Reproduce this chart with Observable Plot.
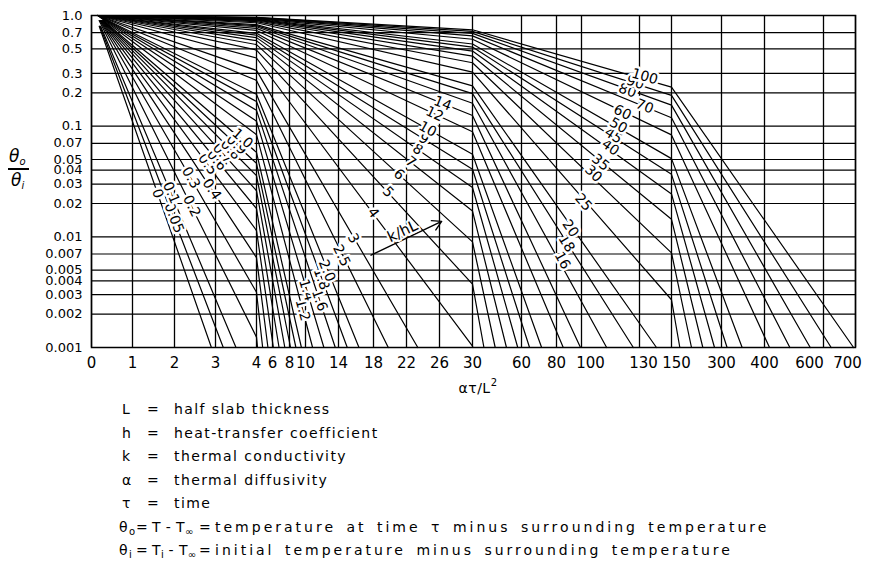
<!DOCTYPE html>
<html><head><meta charset="utf-8">
<script src="https://cdn.jsdelivr.net/npm/d3@7"></script>
<script src="https://cdn.jsdelivr.net/npm/@observablehq/plot@0.6"></script>
<style>
body{margin:0;background:#fff;font-family:"DejaVu Sans",sans-serif;color:#000;}
#wrap{position:relative;width:869px;height:569px;overflow:hidden;}
#chart{position:absolute;left:0;top:0;}
.def{position:absolute;white-space:pre;font-size:14px;line-height:18px;letter-spacing:1.4px;}
.wide{letter-spacing:3px;word-spacing:3px;}
.tight{letter-spacing:0.4px;}
.ylab{position:absolute;font-style:italic;font-size:17px;line-height:17px;}
sub{font-size:10px;vertical-align:-3px;letter-spacing:0;}
</style></head><body>
<div id="wrap">
<div id="chart"></div>
<div class="ylab" style="left:9px;top:148px;">θ<sub>o</sub></div>
<div style="position:absolute;left:8px;top:168px;width:21px;height:1.5px;background:#000;"></div>
<div class="ylab" style="left:11px;top:172px;">θ<sub>i</sub></div>
<div class="def" style="left:478px;top:374px;transform:translateX(-50%);letter-spacing:0.5px;">ατ/L<span style="font-size:10px;vertical-align:7px;">2</span></div>
<div id="defs"></div>
</div>
<script>
// ---- axis ticks ----
const xTicks = [0,1,2,3,4,6,8,10,14,18,22,26,30,60,80,100,130,150,300,400,600,700];
const xTickPixels = [91,132,174,215,256,272,289,305,338,373,406,439,472,521,556,581,639,671,721,764,823,855];
const yTicks = [1,0.7,0.5,0.3,0.2,0.1,0.07,0.05,0.04,0.03,0.02,0.01,0.007,0.005,0.004,0.003,0.002,0.001];
const yTickLabels = ["1.0","0.7","0.5","0.3","0.2","0.1","0.07","0.05","0.04","0.03","0.02","0.01","0.007","0.005","0.004","0.003","0.002","0.001"];

// ---- curves: k/hL values and the points read along each straight segment ----
const kOverHL = [0,0.05,0.1,0.2,0.3,0.4,0.5,0.6,0.7,0.8,0.9,1.0,1.2,1.4,1.6,1.8,2.0,2.5,3,4,5,6,7,8,9,10,12,14,16,18,20,25,30,35,40,45,50,60,70,80,90,100];
const startFo = [0.188,0.206,0.223,0.186,0.203,0.218,0.233,0.246,0.259,0.271,0.283,0.294,
  0.154,0.156,0.157,0.158,0.159,0.160,0.162,0.162,0.163,0.164,0.164,0.165,0.165,0.165,0.166,0.166,0.166,0.167,0.167,0.167,0.167,0.168,0.168,0.168,0.168,0.169,0.169,0.169,0.169,0.170];
const startTheta = [0.8,0.8,0.8,0.9,0.9,0.9,0.9,0.9,0.9,0.9,0.9,0.9,
  1,1,1,1,1,1,1,1,1,1,1,1,1,1,1,1,1,1,1,1,1,1,1,1,1,1,1,1,1,1];
const thetaAt4 = [null,null,null,0.00124,0.00316,0.00648,0.0114,0.0180,0.0261,0.0357,0.0462,0.0580,0.0837,0.111,0.139,0.167,0.194,0.259,0.319,0.413,0.487,0.546,0.593,0.631,0.663,0.690,0.733,0.765,0.791,0.811,0.828,0.860,0.881,0.897,0.909,0.919,0.927,0.938,0.947,0.953,0.958,0.963];
const thetaAt30 = [null,null,null,null,null,null,null,null,null,null,null,null,null,null,null,null,null,null,null,
  0.00103,0.00374,0.00900,0.0171,0.0279,0.0408,0.0557,0.0891,0.125,0.161,0.197,0.231,0.308,0.374,0.430,0.477,0.518,0.553,0.610,0.654,0.690,0.719,0.743];
const thetaAt150 = [null,null,null,null,null,null,null,null,null,null,null,null,null,null,null,null,null,null,null,null,null,null,null,null,null,null,null,null,null,null,null,
  0.00270,0.00716,0.0144,0.0244,0.0367,0.0509,0.0834,0.119,0.155,0.190,0.225];
const endFo = [2.90,3.19,3.50,4.13,4.77,5.43,6.10,6.77,7.45,8.13,8.80,9.49,10.86,12.23,13.61,15.0,16.34,19.79,23.37,30.12,37.0,43.9,50.8,57.7,64.6,71.5,85.4,99.2,113,126.8,140.6,175,210,244,279,313,348,417,486,555,624,694];

// ---- curve labels ----
const labelText = ["0","0.05","0.1","0.2","0.3","0.4","0.5","0.6","0.7","0.8","0.9","1.0",
  "1.2","1.4","1.6","1.8","2.0","2.5","3","4","5","6","7","8","9","10","12","14",
  "16","18","20","25","30","35","40","45","50","60","70","80","90","100"];
const labelFo = [1.60,1.99,1.92,2.42,2.40,2.91,2.81,3.03,3.18,3.37,3.515,3.66,
  9.66,10.14,11.70,11.94,12.6,14.35,15.7,17.96,19.76,21.09,22.53,23.37,24.1,24.58,25.42,26.38,
  84.8,88,91.2,101,106.2,109.8,115,116.5,119.1,121.2,133.3,123.8,127.9,133.3];
const labelTheta = [0.0246,0.0148,0.0250,0.0190,0.0342,0.0269,0.0453,0.0494,0.0567,0.0615,0.0681,0.0774,
  0.00218,0.0033,0.00267,0.00416,0.00494,0.00678,0.0097,0.0165,0.0255,0.0367,0.0474,0.0618,0.0769,0.0942,0.129,0.1605,
  0.00612,0.00872,0.0119,0.0205,0.0374,0.0470,0.0642,0.0824,0.1015,0.133,0.1507,0.210,0.248,0.281];
const labelAngle = [71,69,67,64,60,57,53,50,48,45,43,41,
  75,73,71,70,68,64,60,53,47,42,38,35,32,29,25,22,
  61,58,55,49,44,39,36,33,30,26,22,20,18,16];

// arrow k/hL
const arrowFrom = [17.72, 0.00683];
const arrowTo = [26.26, 0.01378];
const arrowLabel = {text: "k/hL", fo: 21.52, theta: 0.0112, angle: -25};

// ---- definitions below the chart ----
const defSymbols = ["L","h","k","α","τ"];
const defTexts = ["half slab thickness","heat-transfer coefficient","thermal conductivity","thermal diffusivity","time"];

// build tables
const rows = [];
kOverHL.forEach((m, i) => {
  rows.push({m, x: startFo[i], y: startTheta[i]});
  if (thetaAt4[i] != null) rows.push({m, x: 4, y: thetaAt4[i]});
  if (thetaAt30[i] != null) rows.push({m, x: 30, y: thetaAt30[i]});
  if (thetaAt150[i] != null) rows.push({m, x: 150, y: thetaAt150[i]});
  rows.push({m, x: endFo[i], y: 0.001});
});
const labels = labelText.map((t, i) => ({t, x: labelFo[i], y: labelTheta[i], a: labelAngle[i]}));
const xLab = new Map(xTicks.map(d => [d, String(d)]));
const yLab = new Map(yTicks.map((d, i) => [d, yTickLabels[i]]));
const mainX = xTicks.filter(d => ![100,130,150,600,700].includes(d));

const ink = "#000";
const chart = Plot.plot({
  width: 869, height: 372,
  marginTop: 15, marginRight: 14, marginBottom: 25, marginLeft: 91,
  style: {fontFamily: "DejaVu Sans", fontSize: "15px", background: "white", color: ink},
  x: {type: "linear", domain: xTicks, range: xTickPixels, label: null},
  y: {type: "log", domain: [0.001, 1], label: null, axis: null},
  marks: [
    Plot.ruleY(yTicks, {stroke: ink, strokeWidth: 1.2}),
    Plot.ruleX(xTicks, {stroke: ink, strokeWidth: 1.3}),
    Plot.line(rows, {x: "x", y: "y", z: "m", stroke: ink, strokeWidth: 1.2}),
    Plot.text(labels, {x: "x", y: "y", text: "t", rotate: "a", fill: ink, stroke: "white", strokeWidth: 5, fontSize: 14}),
    Plot.arrow([0], {x1: () => arrowFrom[0], y1: () => arrowFrom[1], x2: () => arrowTo[0], y2: () => arrowTo[1], stroke: ink, strokeWidth: 1.4, headLength: 11}),
    Plot.text([arrowLabel], {x: "fo", y: "theta", text: "text", rotate: "angle", fill: ink, stroke: "white", strokeWidth: 4, fontSize: 15}),
    Plot.frame({stroke: ink, strokeWidth: 1.5}),
    Plot.text(yTicks, {y: d => d, text: d => yLab.get(d), frameAnchor: "left", textAnchor: "end", dx: -9, fontSize: 13, fill: ink}),
    Plot.axisX(mainX, {tickSize: 0, tickPadding: 10, tickFormat: d => xLab.get(d), fontSize: 15}),
    Plot.axisX([100], {tickSize: 0, tickPadding: 10, dx: 9, tickFormat: d => xLab.get(d), fontSize: 15}),
    Plot.axisX([130], {tickSize: 0, tickPadding: 10, dx: 4, tickFormat: d => xLab.get(d), fontSize: 15}),
    Plot.axisX([150], {tickSize: 0, tickPadding: 10, dx: 5, tickFormat: d => xLab.get(d), fontSize: 15}),
    Plot.axisX([600], {tickSize: 0, tickPadding: 10, dx: -14, tickFormat: d => xLab.get(d), fontSize: 15}),
    Plot.axisX([700], {tickSize: 0, tickPadding: 10, dx: -8, tickFormat: d => xLab.get(d), fontSize: 15})
  ]
});
document.getElementById("chart").append(chart);

// definitions
const defs = document.getElementById("defs");
const rowY = [409, 433, 456, 480, 503, 527, 550];
defSymbols.forEach((s, i) => {
  const top = rowY[i] - 9;
  defs.insertAdjacentHTML("beforeend",
    `<div class="def" style="left:122px;top:${top}px">${s}</div>` +
    `<div class="def" style="left:147px;top:${top}px">=</div>` +
    `<div class="def" style="left:174px;top:${top}px">${defTexts[i]}</div>`);
});
const t6 = rowY[5] - 9, t7 = rowY[6] - 9;
defs.insertAdjacentHTML("beforeend",
  `<div class="def" style="left:119px;top:${t6}px">θ<sub>o</sub></div>` +
  `<div class="def" style="left:136px;top:${t6}px">=</div>` +
  `<div class="def tight" style="left:152px;top:${t6}px">T - T<sub>∞</sub></div>` +
  `<div class="def" style="left:199px;top:${t6}px">=</div>` +
  `<div class="def wide" style="left:215px;top:${t6}px">temperature at time τ minus surrounding temperature</div>` +
  `<div class="def" style="left:119px;top:${t7}px">θ<sub>i</sub></div>` +
  `<div class="def" style="left:136px;top:${t7}px">=</div>` +
  `<div class="def tight" style="left:152px;top:${t7}px">T<sub>i</sub> - T<sub>∞</sub></div>` +
  `<div class="def" style="left:199px;top:${t7}px">=</div>` +
  `<div class="def wide" style="left:215px;top:${t7}px">initial temperature minus surrounding temperature</div>`);
</script>
</body></html>
